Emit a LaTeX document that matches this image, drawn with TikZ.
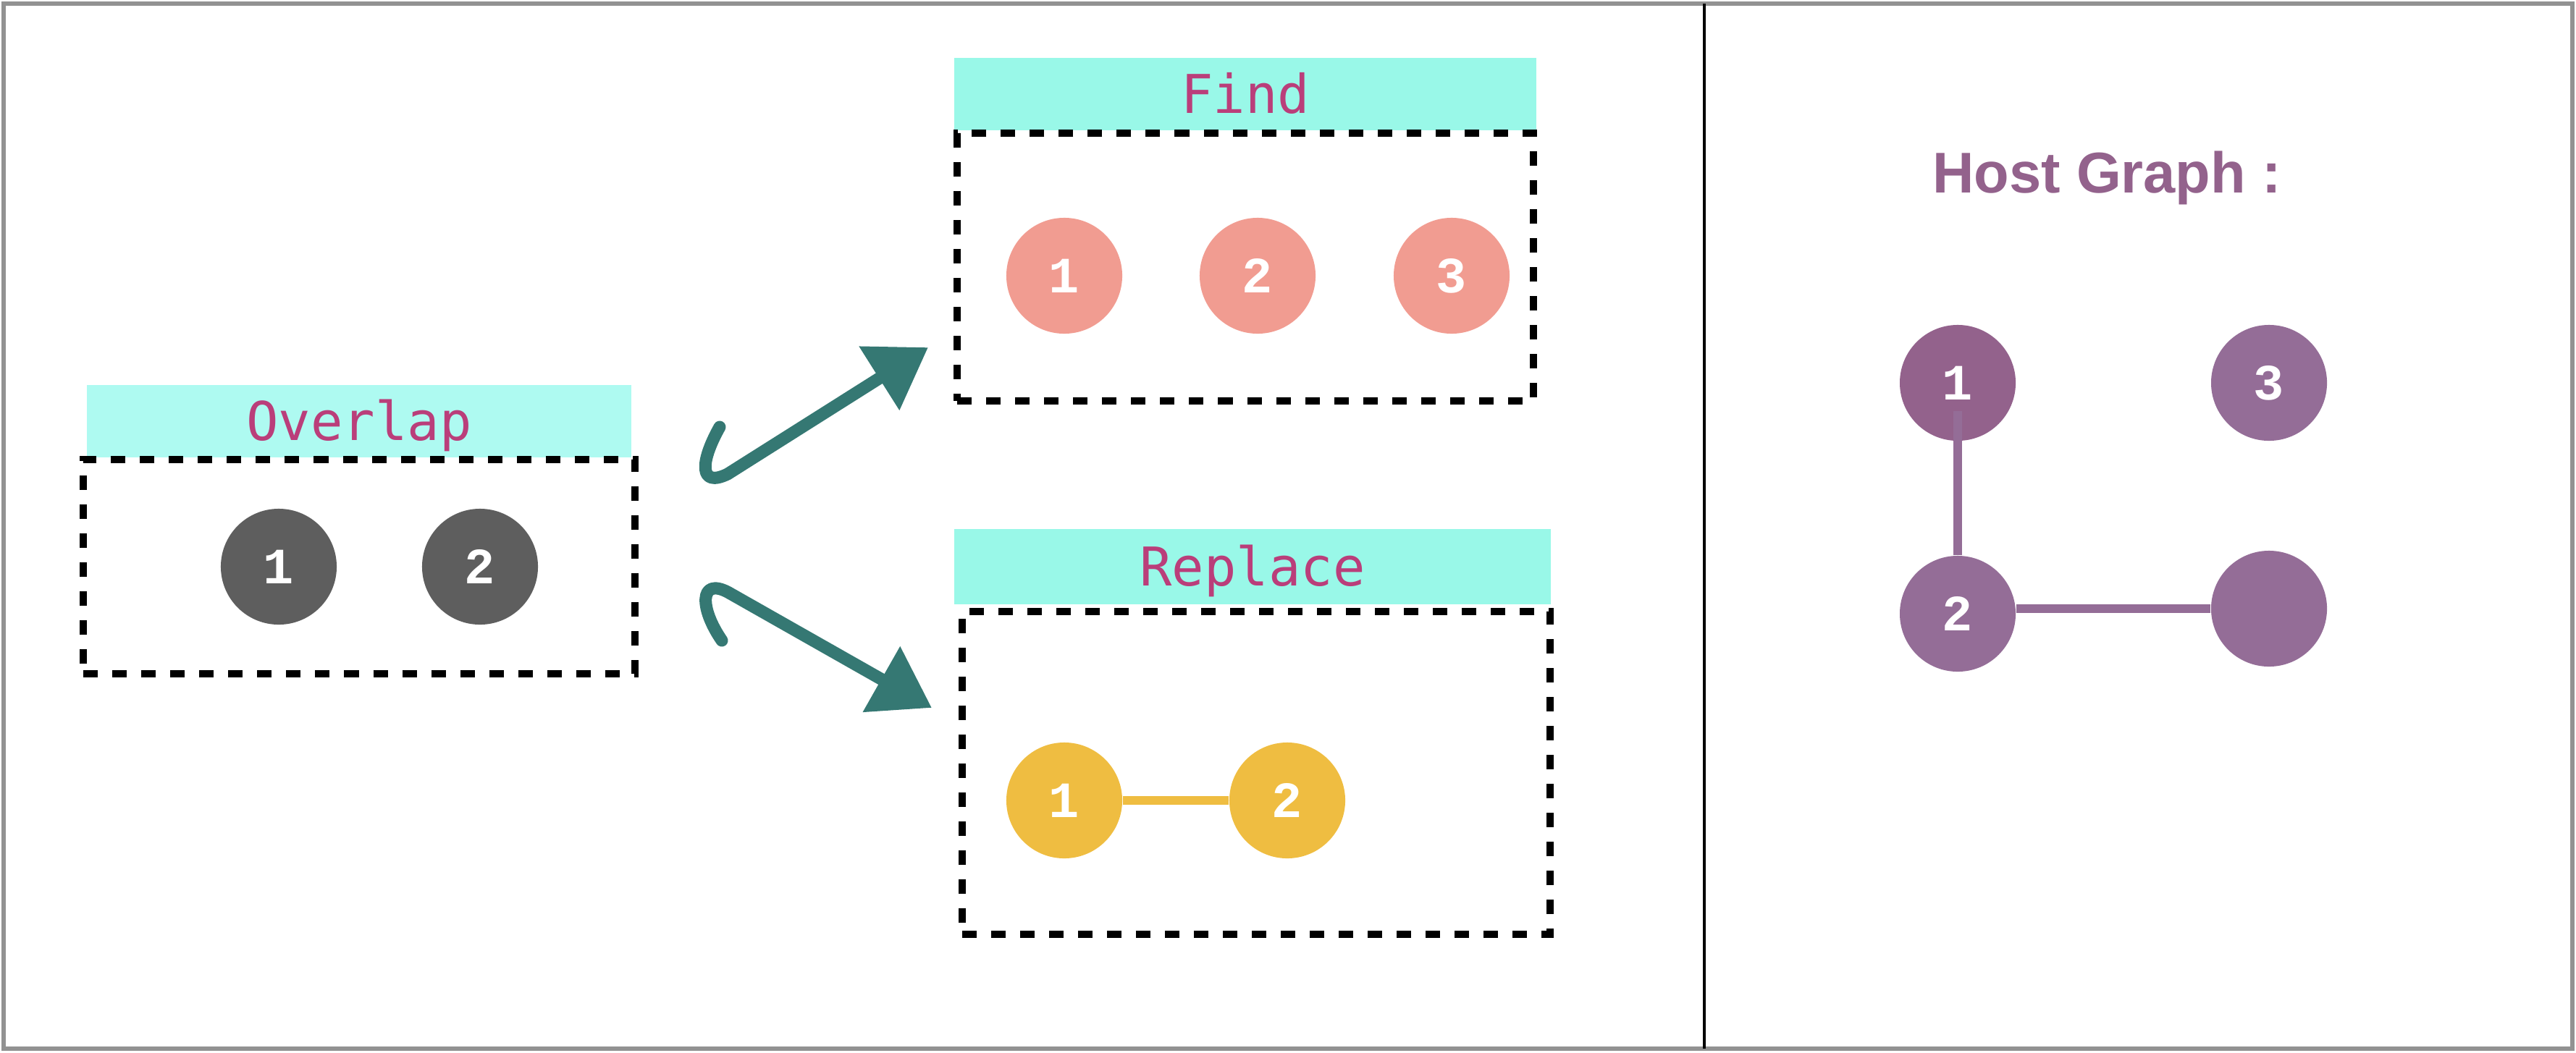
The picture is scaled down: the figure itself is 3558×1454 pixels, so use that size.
\documentclass[tikz,border=0pt]{standalone}
\usepackage{fontspec}
\usepackage{tikz}
\usetikzlibrary{arrows.meta, positioning}
\newfontfamily\headfont{DejaVu Sans Mono}
\newfontfamily\hostfont{Liberation Sans}
\newfontfamily\numfont{Liberation Mono}
\definecolor{framegray}{RGB}{146, 146, 146}
\definecolor{headcyan}{RGB}{153, 248, 232}
\definecolor{headcyanlt}{RGB}{174, 250, 241}
\definecolor{headpink}{RGB}{186, 62, 122}
\definecolor{nodegray}{RGB}{94, 94, 94}
\definecolor{findred}{RGB}{241, 156, 145}
\definecolor{replyellow}{RGB}{239, 189, 65}
\definecolor{hostdark}{RGB}{147, 98, 140}
\definecolor{hostpurple}{RGB}{148, 109, 151}
\definecolor{chalkteal}{RGB}{53, 120, 115}

\begin{document}
\begin{tikzpicture}[x=0.01cm, y=-0.01cm,
  head/.style={fill=headcyan, text=headpink, inner sep=0pt, text height=15.3pt, text depth=0pt,
    font=\headfont\fontsize{21}{21}\selectfont},
  dbox/.style={draw, line width=0.1cm, dash pattern=on 0.2cm off 0.2cm, inner sep=0pt},
  vert/.style={circle, fill=#1, minimum size=1.6cm, inner sep=0pt, text=white,
    font=\numfont\bfseries\fontsize{20}{20}\selectfont},
  link/.style={line width=0.12cm, #1},
  chalk/.style={-{Triangle[length=0.8cm, width=1.0cm]}, line width=0.17cm, chalkteal,
    line cap=round, line join=round}
]
  \useasboundingbox (0,0) rectangle (3558,1454);
  \draw[framegray, line width=0.06cm] (5,5) rectangle (3553,1449);
  \draw[line width=0.045cm] (2354,5) -- (2354,1449);

  % Overlap side
  \node[head, fill=headcyanlt, minimum width=7.52cm, minimum height=1.0cm] (overlaphead) at (496,582) {Overlap};
  \node[dbox, minimum width=7.61cm, minimum height=2.96cm] (overlapbox) at (496,783) {};
  \node[vert=nodegray] (o1) at (385,783) {1};
  \node[vert=nodegray] (o2) at (663,783) {2};

  % Find side
  \node[head, minimum width=8.04cm, minimum height=0.99cm] (findhead) at (1720,130) {Find};
  \node[dbox, minimum width=7.95cm, minimum height=3.70cm] (findbox) at (1720,369) {};
  \node[vert=findred] (f1) at (1470,381) {1};
  \node[vert=findred] (f2) at (1737,381) {2};
  \node[vert=findred] (f3) at (2005,381) {3};

  % Replace side
  \node[head, minimum width=8.24cm, minimum height=1.03cm] (replacehead) at (1730,783) {Replace};
  \node[dbox, minimum width=8.12cm, minimum height=4.46cm] (replacebox) at (1735,1068) {};
  \node[vert=replyellow] (r1) at (1470,1106) {1};
  \node[vert=replyellow] (r2) at (1778,1106) {2};
  \draw[link=replyellow] (r1) -- (r2);

  % Chalk arrows
  \coordinate (uphook) at (994,590);
  \coordinate (uptip) at (1282,480);
  \draw[chalk] (uphook) .. controls (966,640) and (966,674) .. (1005,655) -- (uptip);
  \coordinate (downhook) at (997,885);
  \coordinate (downtip) at (1287,978);
  \draw[chalk] (downhook) .. controls (966,840) and (966,798) .. (1005,818) -- (downtip);

  % Host graph
  \node[font=\hostfont\bfseries\fontsize{22.6}{22.6}\selectfont, text=hostdark, anchor=base] (hosttitle) at (2910,266) {Host Graph :};
  \node[vert=hostdark] (h1) at (2704,529) {1};
  \node[vert=hostpurple] (h3) at (3134,529) {3};
  \node[vert=hostpurple] (h2) at (2704,848) {2};
  \node[vert=hostpurple] (h4) at (3134,841) {};
  \draw[link=hostpurple, shorten <=-0.42cm] (h1.south) -- (h2.north);
  \draw[link=hostpurple] (h2.east |- h4.west) -- (h4.west);
\end{tikzpicture}
\end{document}
